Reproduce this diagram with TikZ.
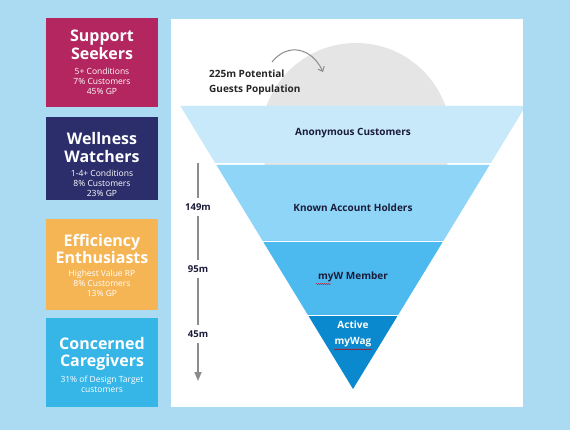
\documentclass[tikz,border=0pt]{standalone}
\usepackage{fontspec}
\setmainfont{Open Sans}
\usetikzlibrary{arrows.meta,decorations.pathmorphing}
\definecolor{bg}{HTML}{ABDAF3}
\definecolor{circ}{HTML}{E5E5E5}
\definecolor{bandA}{HTML}{C8E9FA}
\definecolor{bandB}{HTML}{8ED5F8}
\definecolor{bandC}{HTML}{4CB9EF}
\definecolor{bandD}{HTML}{0A89CE}
\definecolor{magbox}{HTML}{B4265F}
\definecolor{navybox}{HTML}{2C2E6B}
\definecolor{orangebox}{HTML}{F5B554}
\definecolor{cyanbox}{HTML}{36B5E7}
\definecolor{arrowgray}{HTML}{8C8C8C}
\definecolor{darktext}{HTML}{1B1C3A}
\tikzset{
  segtitle/.style={text=white, font=\bfseries\fontsize{16}{17.5}\selectfont, align=center, inner sep=0pt},
  segsub/.style={text=white, font=\fontsize{8.5}{10}\selectfont, align=center, inner sep=0pt},
  funneltext/.style={text=darktext, font=\bfseries\fontsize{10}{15}\selectfont, align=center, inner sep=0pt},
  sizelabel/.style={text=darktext, font=\bfseries\fontsize{9.5}{11}\selectfont, fill=white, inner xsep=1pt, inner ysep=6pt},
  spell/.style={draw=red!80!black, line width=0.4pt, decorate, decoration={snake, amplitude=0.5pt, segment length=2pt}}
}
\begin{document}
\begin{tikzpicture}[x=1pt,y=-1pt]
\useasboundingbox (0,0) rectangle (570,430);
\fill[bg] (0,0) rectangle (570,430);
% left segment boxes
\fill[magbox] (46,18) rectangle (158,107);
\fill[navybox] (46,117) rectangle (158,200);
\fill[orangebox] (46,219) rectangle (158,310);
\fill[cyanbox] (46,318) rectangle (158,407);
\node[segtitle] (t1) at (102,45) {Support\\Seekers};
\node[segsub] (s1) at (102,81) {5+ Conditions\\7\% Customers\\45\% GP};
\node[segtitle] (t2) at (102,147.5) {Wellness\\Watchers};
\node[segsub] (s2) at (102,183) {1-4+ Conditions\\8\% Customers\\23\% GP};
\node[segtitle] (t3) at (102,249) {Efficiency\\Enthusiasts};
\node[segsub] (s3) at (102,283) {Highest Value RP\\8\% Customers\\13\% GP};
\node[segtitle] (t4) at (102,354) {Concerned\\Caregivers};
\node[segsub] (s4) at (102,384.5) {31\% of Design Target\\customers};
% white panel
\fill[white] (171,19) rectangle (523,407);
\begin{scope}
  \clip (171,19) rectangle (523,407);
  \fill[circ] (356,138) circle (95);
  \fill[bandA] (180.4,106) -- (525.6,106) -- (490.9,163) -- (215.1,163) -- cycle;
  \fill[bandB] (216.4,165) -- (489.6,165) -- (443.3,241) -- (262.7,241) -- cycle;
  \fill[bandC] (262.7,241) -- (443.3,241) -- (398.1,315) -- (307.9,315) -- cycle;
  \fill[bandD] (307.9,315) -- (398.1,315) -- (353,389) -- cycle;
  \draw[white, line width=0.6pt] (262.7,241) -- (443.3,241);
  \draw[white, line width=0.6pt] (307.9,315) -- (398.1,315);
\end{scope}
% funnel labels
\node[funneltext] (anon) at (353,133) {Anonymous Customers};
\node[funneltext] (known) at (353,208) {Known Account Holders};
\node[funneltext] (member) at (353,277) {myW Member};
\node[funneltext, text=white, font=\bfseries\fontsize{10}{16}\selectfont] (active) at (353,334) {Active\\myWag};
\draw[spell] (316,284) -- (331,284);
\draw[spell] (334,349.5) -- (372,349.5);
% potential population
\node[funneltext, align=left, anchor=north west, text=black!85] (pot) at (209,70) {225m Potential\\Guests Population};
\coordinate (cs) at (272,62);
\coordinate (ce) at (323,72);
\draw[arrowgray, line width=1pt, -{Straight Barb[length=4pt,width=7pt]}] (cs) .. controls (288,42) and (312,48) .. (ce);
% size arrow
\coordinate (vtop) at (198,163);
\coordinate (vbot) at (198,381);
\draw[arrowgray, line width=1.6pt, -{Triangle[length=9pt,width=7pt]}] (vtop) -- (vbot);
\node[sizelabel] (l149) at (198,207) {149m};
\node[sizelabel] (l95) at (198,269) {95m};
\node[sizelabel] (l45) at (198,334) {45m};
\end{tikzpicture}
\end{document}
